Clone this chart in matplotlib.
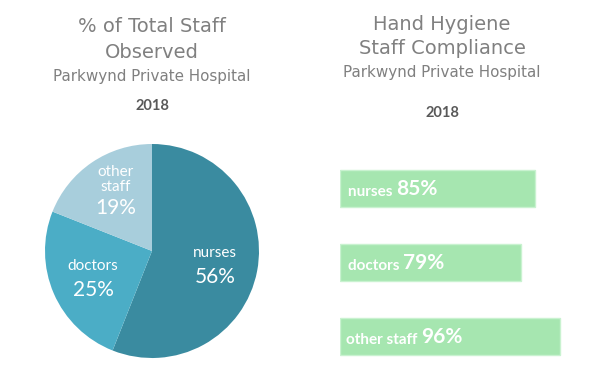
import matplotlib.pyplot as plt
import numpy as np

# pie data
staff = ['nurses', 'doctors', 'other\nstaff']
share = [56, 25, 19]
pie_colors = ['#3A8BA0', '#4BADC6', '#A8CEDC']

# compliance bars
groups = ['nurses', 'doctors', 'other staff']
compliance = [85, 79, 96]

W, H = 593, 375
fig = plt.figure(figsize=(W / 100, H / 100), dpi=100)

title_c = '#808080'
tfont = 'DejaVu Sans'
lfont = 'Lato'

# titles
fig.text(152 / W, 1 - 27 / H, '% of Total Staff', ha='center', va='center',
         fontsize=14, color=title_c, family=tfont)
fig.text(152 / W, 1 - 53 / H, 'Observed', ha='center', va='center',
         fontsize=14, color=title_c, family=tfont)
fig.text(152 / W, 1 - 77 / H, 'Parkwynd Private Hospital', ha='center', va='center',
         fontsize=10.9, color=title_c, family=tfont)
fig.text(152 / W, 1 - 106 / H, '2018', ha='center', va='center',
         fontsize=10.5, color='#595959', family=lfont, weight='bold')

fig.text(442 / W, 1 - 25 / H, 'Hand Hygiene', ha='center', va='center',
         fontsize=14, color=title_c, family=tfont)
fig.text(442 / W, 1 - 49 / H, 'Staff Compliance', ha='center', va='center',
         fontsize=14, color=title_c, family=tfont)
fig.text(442 / W, 1 - 73 / H, 'Parkwynd Private Hospital', ha='center', va='center',
         fontsize=10.9, color=title_c, family=tfont)
fig.text(442 / W, 1 - 113 / H, '2018', ha='center', va='center',
         fontsize=10.5, color='#595959', family=lfont, weight='bold')

# pie
cx, cy, r = 152, 251, 107
ax = fig.add_axes([(cx - r) / W, (H - cy - r) / H, 2 * r / W, 2 * r / H])
wedges, _ = ax.pie(share, colors=pie_colors, startangle=90, counterclock=False,
                   radius=1, wedgeprops=dict(linewidth=0))
ax.set_xlim(-1, 1)
ax.set_ylim(-1, 1)
ax.axis('off')
for w, lab, v in zip(wedges, staff, share):
    mid = np.deg2rad((w.theta1 + w.theta2) / 2)
    d = 0.6
    x, y = d * np.cos(mid), d * np.sin(mid)
    if '\n' in lab:
        py = y - 0.09
        ax.text(x, py + 0.13, lab, ha='center', va='bottom', color='white',
                fontsize=11, family=lfont, linespacing=1.1)
    else:
        py = y - 0.13
        ax.text(x, py + 0.225, lab, ha='center', va='center', color='white',
                fontsize=11, family=lfont)
    ax.text(x, py, f'{v}%', ha='center', va='center', color='white',
            fontsize=15, family=lfont)

# bars
bx = fig.add_axes([340 / W, 2 / H, 229 / W, 221 / H])
yy = np.arange(len(groups))
bx.barh(yy, compliance, height=0.5, color='#A6E6B0', edgecolor='#C9F2D0', linewidth=1)
bx.set_xlim(0, 100)
bx.set_ylim(2.5, -0.5)
bx.axis('off')
for i, (g, v) in enumerate(zip(groups, compliance)):
    t = bx.text(3.5 if g != 'other staff' else 2.5, i + 0.1, g + ' ', ha='left', va='baseline',
                color='white', fontsize=11, family=lfont, weight='bold')
    bx.annotate(f'{v}%', xy=(1, 0), xycoords=t, ha='left', va='bottom',
                color='white', fontsize=15, family=lfont, weight='bold')

fig.savefig('out.png', dpi=100)
